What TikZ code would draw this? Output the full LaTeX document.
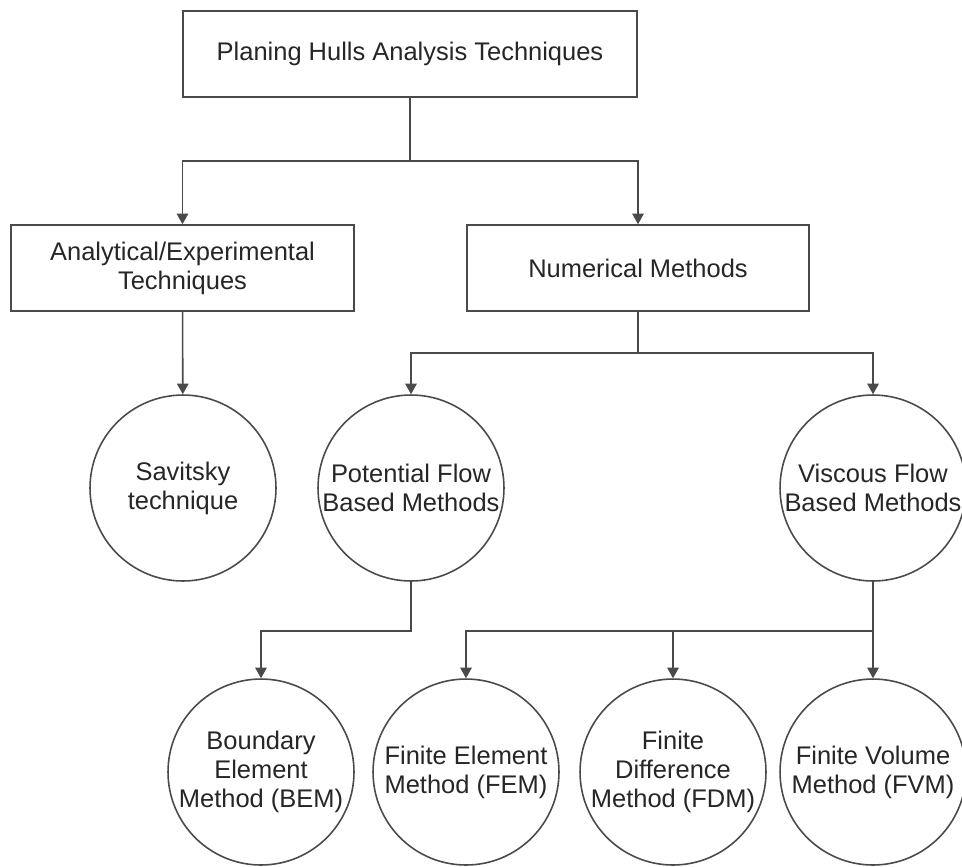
\documentclass[tikz,border=0pt]{standalone}
\usepackage{fontspec}
\setmainfont{Liberation Sans}
\usetikzlibrary{arrows.meta}
\usetikzlibrary{calc}

\definecolor{inkline}{HTML}{4A4A4A}
\definecolor{inktext}{HTML}{262626}

\begin{document}
\begin{tikzpicture}[x=0.02cm, y=-0.02cm,
    boxnode/.style={draw=inkline, line width=0.9pt, rectangle, minimum height=1.72cm, align=center, text=inktext, font=\fontsize{14.5}{16.5}\selectfont},
    ballnode/.style={draw=inkline, line width=0.9pt, circle, minimum size=3.72cm, inner sep=0pt, align=center, text=inktext, font=\fontsize{14.5}{16.5}\selectfont},
    link/.style={draw=inkline, line width=0.9pt, -{Triangle[width=6.5pt,length=6pt]}}]
            \useasboundingbox (0,0) rectangle (962,866);

            \node[boxnode, minimum width=9.08cm] (hulls) at (410,54) {Planing Hulls Analysis Techniques};
            \node[boxnode, minimum width=6.86cm] (analytic) at (182.5,268) {Analytical/Experimental\\Techniques};
            \node[boxnode, minimum width=6.84cm] (numeric) at (638,268) {Numerical Methods};

            \node[ballnode] (savitsky) at (183,488) {Savitsky\\technique};
            \node[ballnode] (potential) at (411,488) {Potential Flow\\Based Methods};
            \node[ballnode] (viscous) at (873,488) {Viscous Flow\\Based Methods};

            \node[ballnode] (bem) at (261,772) {Boundary\\Element\\Method (BEM)};
            \node[ballnode] (fem) at (466,772) {Finite Element\\Method (FEM)};
            \node[ballnode] (fdm) at (673,772) {Finite\\Difference\\Method (FDM)};
            \node[ballnode] (fvm) at (873,772) {Finite Volume\\Method (FVM)};

            \coordinate (hullsjoin) at (410,161);
            \coordinate (numjoin) at (638,353);
            \coordinate (potjoin) at (411,631);
            \coordinate (visjoin) at (873,631);

            \draw[inkline, line width=0.9pt] (hulls.south) -- (hullsjoin);
            \draw[link] (hullsjoin) -| (analytic.north);
            \draw[link] (hullsjoin) -| (numeric.north);
            \draw[link] (analytic) -- (savitsky);

            \draw[inkline, line width=0.9pt] (numeric.south) -- (numjoin);
            \draw[link] (numjoin) -| (potential.north);
            \draw[link] (numjoin) -| (viscous.north);

            \draw[link] (potential.south) -- (potjoin) -| (bem.north);

            \draw[link] (viscous.south) -- (fvm.north);
            \draw[link] (visjoin) -| (fem.north);
            \draw[link] (fdm.north |- visjoin) -- (fdm.north);
        \end{tikzpicture}
\end{document}
